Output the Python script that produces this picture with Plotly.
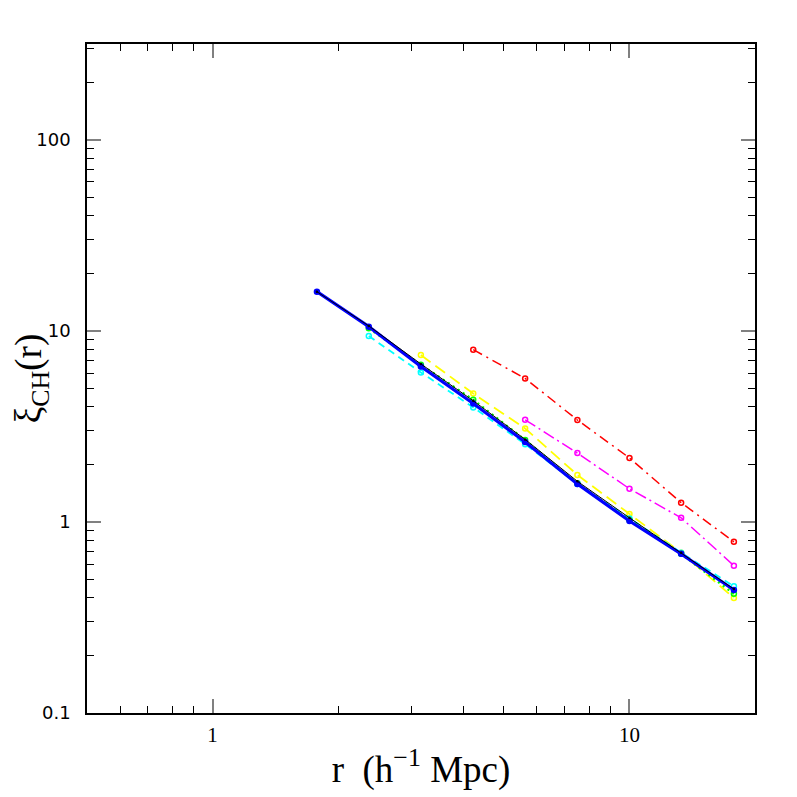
import plotly.graph_objects as go

r_bins = [1.78, 2.37, 3.16, 4.22, 5.62, 7.50, 10.0, 13.3, 17.8]

xi_black = [16.0, 10.6, 6.7, 4.3, 2.70, 1.63, 1.05, 0.69, 0.445]
xi_blue = [16.0, 10.5, 6.5, 4.16, 2.62, 1.58, 1.01, 0.68, 0.44]
xi_green = [None, 10.3, 6.64, 4.35, 2.68, 1.59, 1.02, 0.68, 0.42]
xi_cyan = [None, 9.38, 6.05, 3.97, 2.55, 1.58, 1.04, 0.69, 0.46]
xi_yellow = [None, None, 7.46, 4.69, 3.08, 1.76, 1.10, 0.69, 0.40]
xi_magenta = [None, None, None, None, 3.42, 2.29, 1.49, 1.05, 0.59]
xi_red = [None, None, None, 7.96, 5.63, 3.41, 2.16, 1.26, 0.786]

y_ticks = [0.1, 1, 10, 100]
y_ticklabels = ["0.1", "1", "10", "100"]
y_minor = [0.2, 0.3, 0.4, 0.5, 0.6, 0.7, 0.8, 0.9,
           2, 3, 4, 5, 6, 7, 8, 9,
           20, 30, 40, 50, 60, 70, 80, 90, 200, 300]
x_ticks = [1, 10]
x_ticklabels = ["1", "10"]
x_minor = [0.6, 0.7, 0.8, 0.9, 2, 3, 4, 5, 6, 7, 8, 9]

fig = go.Figure()

def add(y, color, dash, width, symbol="circle-open", msize=5):
    xs = [x for x, v in zip(r_bins, y) if v is not None]
    ys = [v for v in y if v is not None]
    fig.add_trace(go.Scatter(
        x=xs, y=ys, mode="lines+markers",
        line=dict(color=color, dash=dash, width=width),
        marker=dict(symbol=symbol, size=msize, color=color, line=dict(color=color, width=1.5)),
        showlegend=False, hoverinfo="skip"))

add(xi_red, "#ff0000", "10px,5px,2px,5px", 1.5)
add(xi_magenta, "#ff00ff", "12px,4px,2px,4px", 1.5)
add(xi_yellow, "#ffff00", "12px,6px", 1.8)
add(xi_cyan, "#00ffff", "7px,5px", 1.8)
add(xi_green, "#00ff00", "2px,4px", 2.4)
add(xi_blue, "#0000ff", "solid", 3.2, symbol="circle", msize=5)
add(xi_black, "#000000", "solid", 1.0, symbol="circle", msize=1)

def axis_common(minor_vals):
    return dict(
        type="log", showline=True, linecolor="black", linewidth=1.5, mirror="allticks",
        ticks="inside", ticklen=14, tickcolor="#808080", tickwidth=2,
        showgrid=False, zeroline=False, automargin=False,
        minor=dict(ticks="inside", ticklen=7, tickcolor="black", tickwidth=1,
                   showgrid=False, tickvals=minor_vals),
    )

fig.update_layout(
    width=797, height=797,
    margin=dict(l=79, r=50, t=36, b=92),
    paper_bgcolor="white", plot_bgcolor="white",
    xaxis=dict(range=[-0.30103, 1.30103], tickvals=x_ticks, ticktext=x_ticklabels,
               tickfont=dict(family="Liberation Serif", size=21, color="black"),
               ticklabelstandoff=2,
               title=dict(text="r  (h<sup>−1</sup> Mpc)", standoff=10,
                          font=dict(family="Liberation Serif", size=37, color="black")),
               **axis_common(x_minor)),
    yaxis=dict(range=[-1, 2.5], tickvals=y_ticks, ticktext=y_ticklabels,
               tickfont=dict(family="DejaVu Sans", size=18, color="black"),
               ticklabelstandoff=11,
               title=dict(text="ξ<sub>CH</sub>(r)", standoff=4,
                          font=dict(family="Liberation Serif", size=37, color="black")),
               **axis_common(y_minor)),
)

fig.write_html("out.html")
